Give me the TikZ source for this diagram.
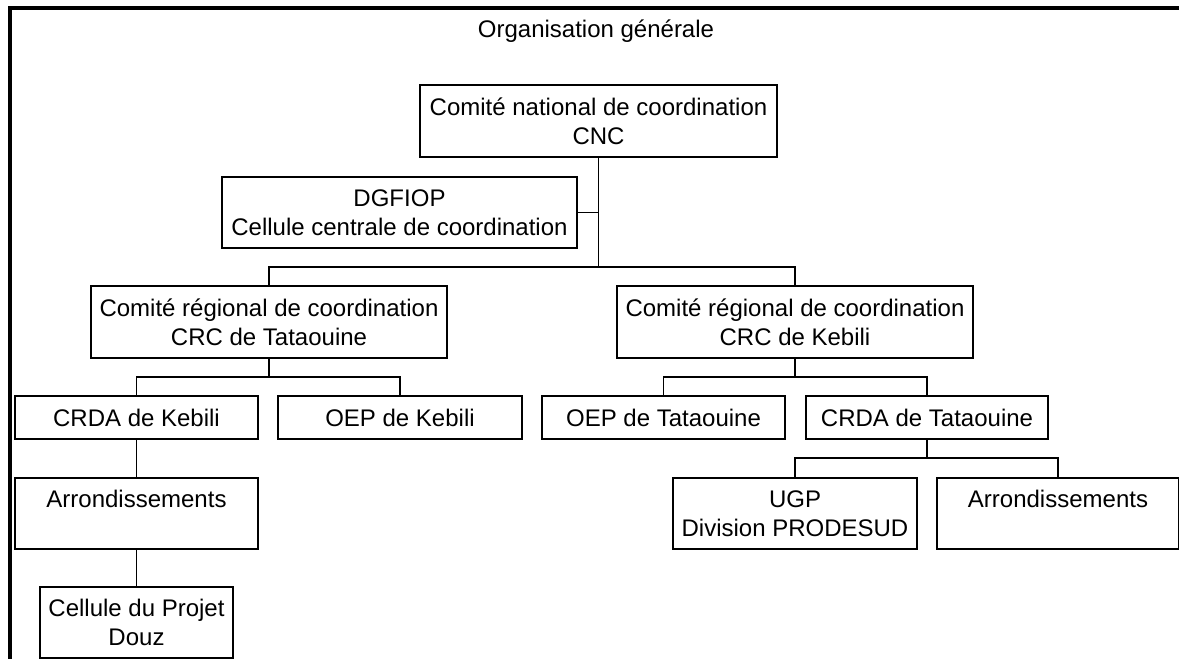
\documentclass[tikz,border=0pt]{standalone}
\usepackage{fontspec}
\setmainfont{Liberation Sans}
\begin{document}
\begin{tikzpicture}[x=1pt,y=-1pt,
  orgbox/.style={draw,line width=1.3pt,inner sep=0pt,outer sep=0pt,align=center,
    font=\fontsize{24}{29}\selectfont},
  wire/.style={line width=1.3pt}]
\useasboundingbox (0,0) rectangle (1179,659);
\fill[white] (0,0) rectangle (1179,659);
% frame
\draw[line width=4pt] (10.3,659) -- (10.3,8.3) -- (1179,8.3);
\node[font=\fontsize{24}{29}\selectfont] (title) at (596,31) {Organisation générale};
% nodes
\node[orgbox,minimum width=357,minimum height=72] (cnc) at (598.5,121) {Comité national de coordination\\CNC};
\node[orgbox,minimum width=355,minimum height=71] (dg) at (399.5,212.5) {DGFIOP\\Cellule centrale de coordination};
\node[orgbox,minimum width=356,minimum height=72] (crcT) at (269,322) {Comité régional de coordination\\CRC de Tataouine};
\node[orgbox,minimum width=356,minimum height=72] (crcK) at (795,322) {Comité régional de coordination\\CRC de Kebili};
\node[orgbox,minimum width=243,minimum height=43] (crdaK) at (136.5,417.5) {CRDA de Kebili};
\node[orgbox,minimum width=244,minimum height=43] (oepK) at (400,417.5) {OEP de Kebili};
\node[orgbox,minimum width=243,minimum height=43] (oepT) at (663.5,417.5) {OEP de Tataouine};
\node[orgbox,minimum width=242,minimum height=43] (crdaT) at (927,417.5) {CRDA de Tataouine};
\node[orgbox,minimum width=243,minimum height=71] (arrK) at (136.5,513.5) {Arrondissements\\\mbox{}};
\node[orgbox,minimum width=244,minimum height=71] (ugp) at (795,513.5) {UGP\\Division PRODESUD};
\node[orgbox,minimum width=242,minimum height=71] (arrT) at (1058,513.5) {Arrondissements\\\mbox{}};
\node[orgbox,minimum width=193,minimum height=71] (cell) at (136.5,622.5) {Cellule du Projet\\Douz};
% bus points
\coordinate (b1) at (598.5,267);
\coordinate (b2) at (269,377);
\coordinate (b3) at (795,377);
\coordinate (b4) at (927,458);
% connectors
\draw[wire] (cnc.south) -- (b1);
\draw[wire] (dg.east) -- (dg.east -| cnc.south);
\draw[wire] (crcT.north) |- (b1) -| (crcK.north);
\draw[wire] (crcT.south) -- (b2);
\draw[wire] (crdaK.north) |- (b2) -| (oepK.north);
\draw[wire] (crcK.south) -- (b3);
\draw[wire] (oepT.north) |- (b3) -| (crdaT.north);
\draw[wire] (crdaT.south) -- (b4);
\draw[wire] (ugp.north) |- (b4) -| (arrT.north);
\draw[wire] (crdaK.south) -- (arrK.north);
\draw[wire] (arrK.south) -- (cell.north);
\end{tikzpicture}
\end{document}
